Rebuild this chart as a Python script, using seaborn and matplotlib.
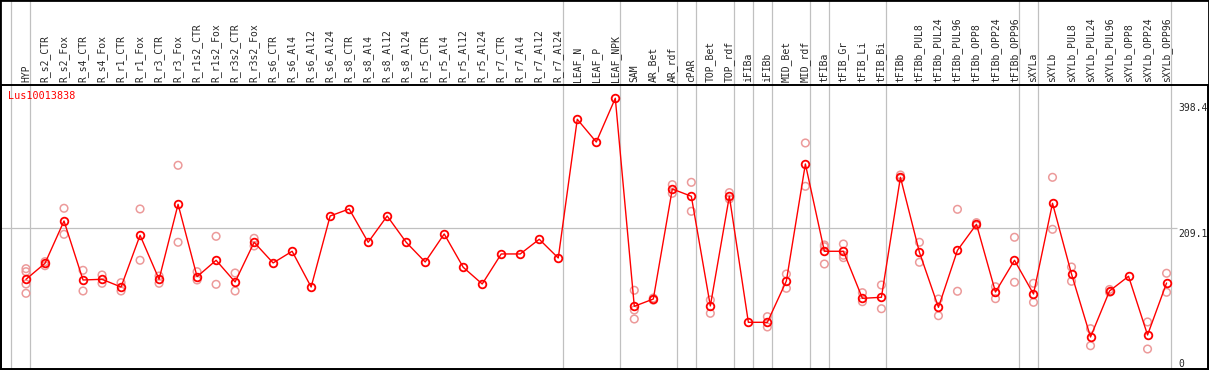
import matplotlib
matplotlib.use("Agg")
import matplotlib.pyplot as plt
import seaborn as sns
import pandas as pd

gene = "Lus10013838"

samples = [
    "HYP", "R_s2_CTR", "R_s2_Fox", "R_s4_CTR", "R_s4_Fox", "R_r1_CTR", "R_r1_Fox",
    "R_r3_CTR", "R_r3_Fox", "R_r1s2_CTR", "R_r1s2_Fox", "R_r3s2_CTR", "R_r3s2_Fox",
    "R_s6_CTR", "R_s6_Al4", "R_s6_Al12", "R_s6_Al24", "R_s8_CTR", "R_s8_Al4",
    "R_s8_Al12", "R_s8_Al24", "R_r5_CTR", "R_r5_Al4", "R_r5_Al12", "R_r5_Al24",
    "R_r7_CTR", "R_r7_Al4", "R_r7_Al12", "R_r7_Al24", "LEAF_N", "LEAF_P", "LEAF_NPK",
    "SAM", "AR_Bet", "AR_rdf", "cPAR", "TOP_Bet", "TOP_rdf", "iFIBa", "iFIBb",
    "MID_Bet", "MID_rdf", "tFIBa", "tFIB_Gr", "tFIB_Li", "tFIB_Bi", "tFIBb",
    "tFIBb_PUL8", "tFIBb_PUL24", "tFIBb_PUL96", "tFIBb_OPP8", "tFIBb_OPP24",
    "tFIBb_OPP96", "sXYLa", "sXYLb", "sXYLb_PUL8", "sXYLb_PUL24", "sXYLb_PUL96",
    "sXYLb_OPP8", "sXYLb_OPP24", "sXYLb_OPP96",
]

# mean expression per sample
means = [
    134.8, 158.1, 219.7, 133.8, 134.8, 123.6, 198.9, 134.8, 244.0, 138.6, 162.5,
    130.9, 188.7, 158.6, 175.6, 123.6, 227.0, 237.2, 188.7, 227.0, 188.7, 160.0,
    200.8, 152.3, 128.0, 171.7, 171.7, 193.1, 165.8, 367.8, 334.7, 398.4,
    95.5, 106.1, 266.3, 255.7, 96.0, 255.7, 72.2, 72.2, 132.4, 302.7, 175.6,
    175.6, 107.1, 108.6, 283.3, 174.1, 94.0, 177.0, 214.9, 116.3, 162.5,
    113.4, 245.5, 142.5, 50.8, 117.8, 139.2, 53.7, 129.4,
]

# individual replicates (empty = only one value)
replicates = [
    [150.3, 145.9, 128.0, 114.4], [160.5, 154.6], [238.2, 200.3], [147.9, 117.8],
    [141.1, 129.0], [129.9, 117.8], [237.2, 162.5], [139.6, 129.0], [300.8, 188.7],
    [145.9, 133.8], [197.4, 127.5], [144.0, 117.8], [194.5, 183.3],
    [], [], [], [], [], [], [], [], [], [], [], [], [], [], [], [], [], [], [],
    [118.8, 90.1, 77.0], [107.5, 104.5], [272.6, 260.0], [276.0, 233.8],
    [104.7, 85.3], [261.0, 251.7], [], [80.4, 65.4], [142.5, 121.7],
    [333.3, 270.2], [184.8, 182.3, 157.1], [186.2, 169.8, 166.3], [115.3, 102.2],
    [126.5, 92.0], [286.7, 281.8], [188.7, 159.6], [106.1, 81.8], [236.7, 117.4],
    [217.3, 212.9], [124.0, 106.6], [196.0, 130.5], [129.0, 101.3], [283.3, 207.6],
    [152.7, 131.9], [62.9, 38.1], [120.0, 116.0], [], [72.7, 33.3], [143.6, 115.9],
]

# last sample of each tissue group (separator lines)
group_ends = [-1, 0, 28, 31, 34, 35, 37, 38, 39, 41, 42, 45, 52, 53, 60]

y_marks = [398.4, 209.1, 0]

df_mean = pd.DataFrame({"pos": range(len(samples)), "value": means})
df_rep = pd.DataFrame(
    [(i, v) for i, reps in enumerate(replicates) for v in reps],
    columns=["pos", "value"],
)

sns.set_style("white")
plt.rcParams["font.family"] = ["DejaVu Sans Mono", "DejaVu Sans"]

W, H = 1209, 370
fig = plt.figure(figsize=(W / 100, H / 100), dpi=100)
ax = fig.add_axes([1 / W, 1 / H, 1207 / W, 284 / H])

x0, x1 = -1.315, 62.18
ax.set_xlim(x0, x1)
ax.set_ylim(4.2, 417.7)

# separators
top_ext = 369 / 284
for g in group_ends:
    ax.axvline(g + 0.23, ymin=0, ymax=top_ext, color="#c0c0c0", lw=0.9,
               clip_on=False, zorder=0)
ax.hlines(209.1, x0, 60.55, color="#c0c0c0", lw=0.9, zorder=0)

sns.scatterplot(data=df_rep, x="pos", y="value", ax=ax, marker="o",
                facecolor="none", edgecolor="#ec9a9a", linewidth=1.1, s=30,
                zorder=2, legend=False)
sns.lineplot(data=df_mean, x="pos", y="value", ax=ax, color="red", lw=1.0,
             marker="o", markersize=5.5, markerfacecolor="none",
             markeredgecolor="red", markeredgewidth=1.3, zorder=3)

ax.set_xlabel("")
ax.set_ylabel("")
ax.set_xticks([])
ax.set_yticks([])
for side in ["left", "bottom", "top", "right"]:
    ax.spines[side].set_color("black")
    ax.spines[side].set_linewidth(1.4)

# header labels
for i, name in enumerate(samples):
    ax.text(i, 1.0 + 3 / 284, name, rotation=90, ha="center", va="bottom",
            fontsize=7, transform=ax.get_xaxis_transform(), clip_on=False)

ax.text(-0.95, 1.0 - 6 / 284, gene, color="red", fontsize=7.3, ha="left",
        va="top", transform=ax.get_xaxis_transform())

# value marks on the right
offsets = [-5, -1, 13]
for v, off in zip(y_marks, offsets):
    ax.annotate(f"{v:g}", xy=(60.6, v), xytext=(0, off),
                textcoords="offset pixels", va="top", ha="left", fontsize=7,
                annotation_clip=False)

fig.add_artist(plt.Rectangle((0, 0), 1, 1, transform=fig.transFigure,
                             fill=False, ec="black", lw=2))

plt.savefig("out.png", dpi=100)
plt.close()
